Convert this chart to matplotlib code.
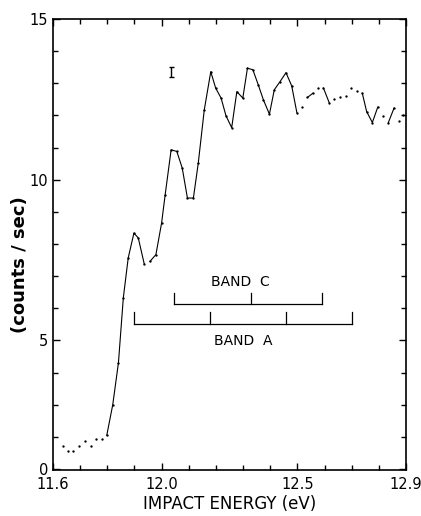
import numpy as np
import matplotlib.pyplot as plt

# impact energy (eV) and count rate
energy = [11.636, 11.656, 11.675, 11.697, 11.718, 11.739, 11.758, 11.779, 11.798,
          11.820, 11.841, 11.859, 11.877, 11.898, 11.914, 11.936, 11.957, 11.979,
          12.000, 12.013, 12.035, 12.056, 12.076, 12.095, 12.117, 12.135, 12.157,
          12.181, 12.199, 12.219, 12.237, 12.258, 12.277, 12.299, 12.316, 12.336,
          12.356, 12.375, 12.397, 12.415, 12.436, 12.458, 12.479, 12.498, 12.516,
          12.537, 12.557, 12.577, 12.596, 12.617, 12.636, 12.657, 12.678, 12.698,
          12.719, 12.739, 12.755, 12.776, 12.796, 12.817, 12.835, 12.856, 12.874,
          12.890]
counts = [1.72, 1.56, 1.56, 1.72, 1.87, 1.72, 1.95, 1.95, 2.05,
          3.00, 4.31, 6.33, 7.57, 8.34, 8.19, 7.38, 7.46, 7.67,
          8.66, 9.53, 10.93, 10.88, 10.36, 9.43, 9.43, 10.52, 12.17,
          13.36, 12.85, 12.54, 11.99, 11.62, 12.74, 12.54, 13.47, 13.42,
          12.95, 12.48, 12.04, 12.80, 13.05, 13.33, 12.92, 12.09, 12.25,
          12.56, 12.69, 12.85, 12.85, 12.40, 12.51, 12.56, 12.61, 12.85,
          12.77, 12.69, 12.12, 11.78, 12.26, 11.97, 11.78, 12.23, 11.84,
          12.02]

# index ranges drawn with a connecting line (rest are dots only)
joined = [(8, 15), (16, 43), (45, 46), (48, 49), (55, 58), (60, 61)]

# error bar
err_x, err_y, err_h = 12.035, 13.35, 0.16

# band progressions
band_c = [12.047, 12.329, 12.590]
band_a = [11.899, 12.178, 12.458, 12.700]

ytick_pos = [1, 5, 10, 15]
ytick_lab = ["0", "5", "10", "15"]
xtick_pos = [11.6, 12.0, 12.5, 12.9]
xtick_lab = ["11.6", "12.0", "12.5", "12.9"]

E = np.array(energy)
C = np.array(counts)

fig = plt.figure(figsize=(4.21, 5.16), dpi=100)
ax = fig.add_axes([0.1259, 0.0891, 0.8385, 0.8741])

ax.plot(E, C, 'o', color='black', markersize=1.7, markeredgewidth=0)
for i0, i1 in joined:
    ax.plot(E[i0:i1 + 1], C[i0:i1 + 1], '-', color='black', lw=0.8)

ax.errorbar([err_x], [err_y], yerr=[err_h], color='black', lw=1.0,
            capsize=1.8, capthick=1.0, fmt='none')

# band C comb
ax.plot([band_c[0], band_c[-1]], [6.12, 6.12], color='black', lw=0.9)
for b in band_c:
    ax.plot([b, b], [6.12, 6.49], color='black', lw=0.9)
ax.text(np.mean([band_c[0], band_c[-1]]) - 0.03, 6.83, "BAND  C", ha='center',
        va='center', fontsize=10)

# band A comb
ax.plot([band_a[0], band_a[-1]], [5.50, 5.50], color='black', lw=0.9)
for b in band_a:
    ax.plot([b, b], [5.50, 5.87], color='black', lw=0.9)
ax.text(12.30, 4.97, "BAND  A", ha='center', va='center', fontsize=10)

ax.set_xlim(11.6, 12.9)
ax.set_ylim(0.97, 15.0)
ax.set_xticks(xtick_pos, xtick_lab)
ax.set_xticks(np.arange(11.7, 12.85, 0.1), minor=True)
ax.set_yticks(ytick_pos, ytick_lab)
ax.set_yticks([2, 3, 4, 6, 7, 8, 9, 11, 12, 13, 14], minor=True)
ax.tick_params(which='both', direction='in', top=True, right=True, labelsize=10.5,
               width=1.0)
ax.tick_params(which='major', length=5)
ax.tick_params(which='minor', length=3.5)
ax.tick_params(axis='x', pad=5)
for s in ax.spines.values():
    s.set_linewidth(1.2)

ax.set_xlabel("IMPACT ENERGY (eV)", fontsize=12, labelpad=2)
ax.set_ylabel("(counts / sec)", fontsize=13, fontweight='bold')
ax.yaxis.set_label_coords(-0.068, 0.455)

fig.savefig("out.png", dpi=100)
